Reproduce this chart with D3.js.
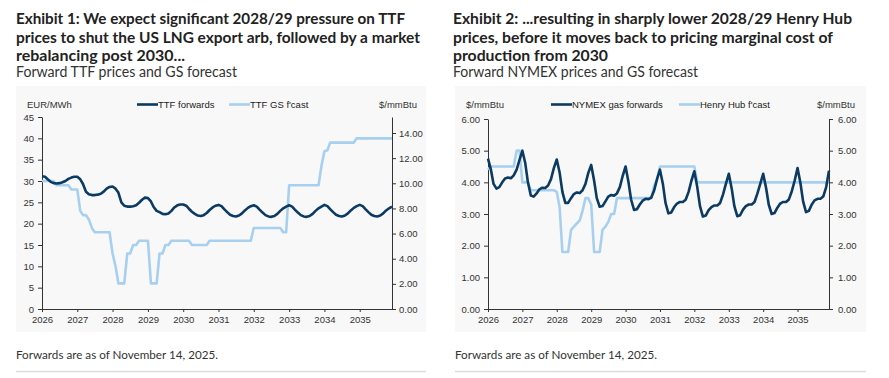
<!DOCTYPE html>
<html><head><meta charset="utf-8">
<script src="https://cdn.jsdelivr.net/npm/d3@7"></script>
<style>body{margin:0;background:#fff} svg{display:block}</style>
</head><body>
<svg id="c" width="889" height="378"></svg>
<script>
// ---------- DATA ----------
const firstMonth = "2026-01";
const monthCount = 120; // Jan 2026 .. Dec 2035
const yearTicks = ["2026","2027","2028","2029","2030","2031","2032","2033","2034","2035"];

// Exhibit 1 (EUR/MWh)
const ttfForwards = [
  31.1,31.0,30.4,29.8,29.5,29.4,29.5,29.7,30.0,30.5,30.8,31.0,
  31.0,30.4,29.3,27.5,26.9,26.7,26.7,26.8,27.0,27.5,28.2,28.6,
  28.7,28.2,27.3,25.0,24.2,24.0,24.0,24.1,24.3,24.9,25.6,26.1,
  26.0,25.2,23.9,23.0,22.7,22.3,22.2,22.4,23.0,23.8,24.3,24.5,
  24.5,24.2,23.5,22.8,22.3,21.9,21.8,22.0,22.5,23.2,23.8,24.2,
  24.4,24.1,23.4,22.7,22.1,21.8,21.7,21.9,22.4,23.1,23.7,24.1,
  24.3,24.0,23.3,22.6,22.0,21.7,21.6,21.8,22.3,23.0,23.6,24.0,
  24.3,24.0,23.3,22.6,22.0,21.7,21.6,21.8,22.3,23.0,23.6,24.0,
  24.4,24.1,23.4,22.7,22.1,21.8,21.7,21.9,22.4,23.1,23.7,24.1,
  24.4,24.1,23.4,22.7,22.1,21.8,21.7,21.9,22.4,23.1,23.6,24.0
];
const ttfGsForecast = [
  30,30,30,30,30,29,29,29,29,29,28,28,
  28,23,22,22,21,19,18,18,18,18,18,18,
  13,10,6,6,6,13,13,15,15,16,16,16,
  16,6,6,6,13,13,15,15,16,16,16,16,
  16,16,16,15,15,15,15,15,15,16,16,16,
  16,16,16,16,16,16,16,16,16,16,16,16,
  19,19,19,19,19,19,19,19,19,19,18,18,
  29,29,29,29,29,29,29,29,29,29,29,33.5,
  37,37.2,39,39,39,39,39,39,39,39,39,40,
  40,40,40,40,40,40,40,40,40,40,40,40
];
const ttfLeftTicks = [0,5,10,15,20,25,30,35,40,45];
const ttfRightTicks = [0,2,4,6,8,10,12,14];
const eurMwhToUsdMmbtu = 0.3394;

// Exhibit 2 ($/mmBtu)
const nymexForwards = [
  4.75,4.40,3.95,3.80,3.85,4.00,4.12,4.15,4.13,4.22,4.40,4.70,
  5.00,4.60,4.00,3.58,3.55,3.65,3.78,3.83,3.82,3.90,4.10,4.45,
  4.72,4.30,3.70,3.35,3.35,3.50,3.63,3.68,3.66,3.75,3.95,4.30,
  4.55,4.05,3.50,3.23,3.25,3.40,3.55,3.60,3.58,3.65,3.85,4.20,
  4.50,4.00,3.45,3.13,3.15,3.30,3.42,3.48,3.47,3.52,3.75,4.10,
  4.40,3.95,3.35,3.02,3.05,3.22,3.33,3.38,3.38,3.45,3.70,4.05,
  4.35,3.85,3.25,2.92,2.95,3.12,3.22,3.27,3.27,3.35,3.62,3.95,
  4.27,3.80,3.25,2.93,2.96,3.14,3.25,3.30,3.30,3.38,3.65,3.95,
  4.27,3.82,3.30,3.00,3.03,3.20,3.33,3.38,3.38,3.46,3.72,4.05,
  4.45,3.97,3.40,3.06,3.10,3.30,3.43,3.48,3.48,3.55,3.85,4.37
];
const henryHubForecast = [
  4.4,4.5,4.5,4.5,4.5,4.5,4.5,4.5,4.5,4.5,5.0,5.0,
  4.0,4.0,4.0,3.75,3.75,3.75,3.75,3.75,3.75,3.75,3.75,3.75,
  3.7,3.2,1.8,1.8,1.8,2.5,2.6,2.7,2.8,3.1,3.5,3.5,
  3.3,1.8,1.8,1.8,2.5,2.6,2.75,3.0,3.0,3.5,3.5,3.5,
  3.5,3.5,3.5,3.5,3.5,3.5,3.5,3.5,3.5,3.5,3.9,4.1,
  4.5,4.5,4.5,4.5,4.5,4.5,4.5,4.5,4.5,4.5,4.5,4.5,
  4.5,4.0,4.0,4.0,4.0,4.0,4.0,4.0,4.0,4.0,4.0,4.0,
  4.0,4.0,4.0,4.0,4.0,4.0,4.0,4.0,4.0,4.0,4.0,4.0,
  4.0,4.0,4.0,4.0,4.0,4.0,4.0,4.0,4.0,4.0,4.0,4.0,
  4.0,4.0,4.0,4.0,4.0,4.0,4.0,4.0,4.0,4.0,4.0,4.0
];
const nymexTicks = [0,1,2,3,4,5,6];

const titles1 = ["Exhibit 1: We expect significant 2028/29 pressure on TTF",
                 "prices to shut the US LNG export arb, followed by a market",
                 "rebalancing post 2030..."];
const subtitle1 = "Forward TTF prices and GS forecast";
const titles2 = ["Exhibit 2: ...resulting in sharply lower 2028/29 Henry Hub",
                 "prices, before it moves back to pricing marginal cost of",
                 "production from 2030"];
const subtitle2 = "Forward NYMEX prices and GS forecast";
const footnote = "Forwards are as of November 14, 2025.";

// ---------- STYLE ----------
const DARK = "#0b3a62", LIGHT = "#a7d0f0", AXIS = "#333";
const AXFONT = "'Liberation Sans', Arial, sans-serif";
const TFONT = "Lato, 'Open Sans', sans-serif";

const svg = d3.select("#c");
const parseMonth = d3.timeParse("%Y-%m");
const months = d3.timeMonth.range(parseMonth(firstMonth), d3.timeMonth.offset(parseMonth(firstMonth), monthCount));

function header(x0, lines, sub, widths, subW) {
  const baselines = [24, 42.5, 61];
  lines.forEach((t, i) => {
    svg.append("text").attr("x", x0).attr("y", baselines[i])
      .attr("font-family", TFONT).attr("font-weight", 700).attr("font-size", 15.5)
      .attr("fill", "#222").attr("textLength", widths[i]).attr("lengthAdjust", "spacingAndGlyphs")
      .text(t);
  });
  svg.append("text").attr("x", x0).attr("y", 76.5)
    .attr("font-family", TFONT).attr("font-size", 14.5).attr("fill", "#333")
    .attr("textLength", subW).attr("lengthAdjust", "spacingAndGlyphs").text(sub);
}

function chart(cfg) {
  svg.append("rect").attr("x", cfg.panel[0]).attr("y", 86).attr("width", cfg.panel[1] - cfg.panel[0])
    .attr("height", 246).attr("fill", "#f8f8f8");
  const x = d3.scaleTime().domain([months[0], months[months.length - 1]]).range([cfg.x0, cfg.x1]);
  const yL = d3.scaleLinear().domain(cfg.yDomain).range([309, cfg.yTop]);
  const yR = d3.scaleLinear().domain(cfg.yRDomain).range([309, cfg.yTop]);

  const g = svg.append("g");
  const styleAxis = sel => {
    sel.selectAll("path,line").attr("stroke", AXIS).attr("stroke-width", 1);
    sel.selectAll("text").attr("font-family", AXFONT).attr("font-size", 9.5).attr("fill", "#333");
  };
  g.append("g").attr("transform", `translate(${cfg.x0},0)`)
    .call(d3.axisLeft(yL).tickValues(cfg.leftTicks).tickFormat(cfg.leftFmt).tickSize(4).tickSizeOuter(0).tickPadding(4))
    .call(styleAxis);
  g.append("g").attr("transform", `translate(${cfg.x1},0)`)
    .call(d3.axisRight(yR).tickValues(cfg.rightTicks).tickFormat(d3.format(".2f")).tickSize(4).tickSizeOuter(0).tickPadding(cfg.rPad))
    .call(styleAxis);
  g.append("g").attr("transform", "translate(0,309)")
    .call(d3.axisBottom(x).tickValues(yearTicks.map(y => parseMonth(y + "-01"))).tickFormat(d3.timeFormat("%Y")).tickSize(3).tickSizeOuter(0).tickPadding(4))
    .call(styleAxis);

  const line = d3.line().x((d, i) => x(months[i])).y(d => yL(d));
  g.append("path").datum(cfg.light).attr("d", line).attr("fill", "none")
    .attr("stroke", LIGHT).attr("stroke-width", 2.6).attr("stroke-linejoin", "round");
  g.append("path").datum(cfg.dark).attr("d", line).attr("fill", "none")
    .attr("stroke", DARK).attr("stroke-width", 2.6).attr("stroke-linejoin", "round");

  // unit labels
  const ut = (xx, t, anchor) => svg.append("text").attr("x", xx).attr("y", 107.5).attr("text-anchor", anchor || "start")
    .attr("font-family", AXFONT).attr("font-size", 9.5).attr("fill", "#333").text(t);
  ut(cfg.unitL[0], cfg.unitL[1]);
  ut(cfg.unitR[0], cfg.unitR[1]);
  // legend
  cfg.legend.forEach(([lx, col, t]) => {
    svg.append("line").attr("x1", lx).attr("x2", lx + 21).attr("y1", 104.5).attr("y2", 104.5)
      .attr("stroke", col).attr("stroke-width", 2.6);
    svg.append("text").attr("x", lx + 21).attr("y", 108).attr("font-family", AXFONT)
      .attr("font-size", 9.5).attr("fill", "#222").text(t);
  });
  // footnote
  svg.append("text").attr("x", cfg.panel[0]).attr("y", 359).attr("font-family", TFONT)
    .attr("font-size", 12).attr("fill", "#333").attr("textLength", 202).attr("lengthAdjust", "spacingAndGlyphs").text(footnote);
  svg.append("line").attr("x1", cfg.panel[0]).attr("x2", cfg.panel[1]).attr("y1", 371.5).attr("y2", 371.5)
    .attr("stroke", "#dcdcdc").attr("stroke-width", 1.5);
}

header(16, titles1, subtitle1, [389, 404, 169], 221);
header(453, titles2, subtitle2, [399, 380, 155], 245);

chart({
  panel: [16, 426], x0: 42, x1: 392, yTop: 117,
  yDomain: [0, 45], yRDomain: [0, 45 * eurMwhToUsdMmbtu],
  leftTicks: ttfLeftTicks, leftFmt: d3.format("d"), rightTicks: ttfRightTicks, rPad: 3,
  dark: ttfForwards, light: ttfGsForecast,
  unitL: [27, "EUR/MWh"], unitR: [379, "$/mmBtu"],
  legend: [[137, DARK, "TTF forwards"], [229, LIGHT, "TTF GS f'cast"]]
});
chart({
  panel: [455, 866], x0: 488, x1: 829, yTop: 119,
  yDomain: [0, 6], yRDomain: [0, 6],
  leftTicks: nymexTicks, leftFmt: d3.format(".2f"), rightTicks: nymexTicks, rPad: 5,
  dark: nymexForwards, light: henryHubForecast,
  unitL: [466, "$/mmBtu"], unitR: [817, "$/mmBtu"],
  legend: [[551, DARK, "NYMEX gas forwards"], [679, LIGHT, "Henry Hub f'cast"]]
});
</script>
</body></html>
